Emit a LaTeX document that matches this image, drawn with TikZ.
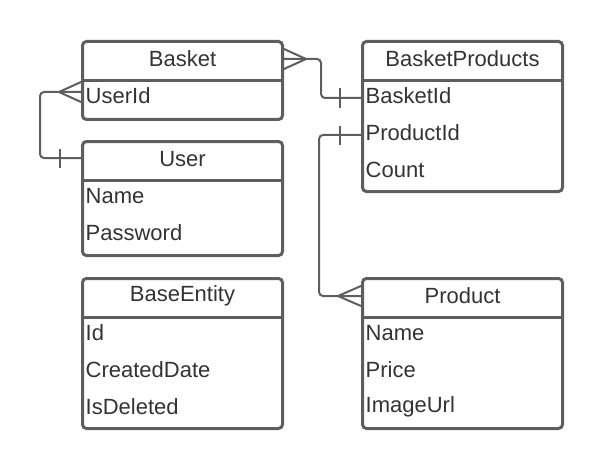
\documentclass[tikz,border=0pt]{standalone}
\usepackage{fontspec}
\setmainfont{Liberation Sans}
\usetikzlibrary{calc}
\definecolor{ln}{HTML}{5E5E5E}
\definecolor{tx}{HTML}{333333}
\newcommand{\erbox}[5]{%
  \node[box,minimum height=#4pt] (#1) at (#2,#3) {};
  \draw[div] ($(#1.north west)+(0,40.5)$) -- ($(#1.north east)+(0,40.5)$);
  \node[title] (#1-t) at ($(#1.north)+(0,19)$) {#5};
}
\newcommand{\erfield}[3]{%
  \node[field] (#1-#2) at ($(#1.north west)+(4.5,19+37*#2)$) {#3};
}
\begin{document}
\begin{tikzpicture}[x=1pt,y=-1pt,
  box/.style={draw=ln,line width=3pt,rounded corners=4pt,minimum width=200pt,inner sep=0pt,anchor=north west},
  div/.style={draw=ln,line width=3pt},
  title/.style={text=tx,font=\fontsize{22}{26}\selectfont,inner sep=0pt},
  field/.style={text=tx,font=\fontsize{22}{26}\selectfont,inner sep=0pt,anchor=west},
  conn/.style={draw=ln,line width=2pt,rounded corners=4pt},
  crow/.style={draw=ln,line width=2pt},
  tick/.style={draw=ln,line width=2pt}]
\useasboundingbox (0,0) rectangle (602,468);

\erbox{basket}{81}{40}{78}{Basket}
\erfield{basket}{1}{UserId}

\erbox{user}{81}{140}{114}{User}
\erfield{user}{1}{Name}
\erfield{user}{2}{Password}

\erbox{base}{81}{277}{150}{BaseEntity}
\erfield{base}{1}{Id}
\erfield{base}{2}{CreatedDate}
\erfield{base}{3}{IsDeleted}

\erbox{bp}{361}{40}{150}{BasketProducts}
\erfield{bp}{1}{BasketId}
\erfield{bp}{2}{ProductId}
\erfield{bp}{3}{Count}

\erbox{prod}{361}{277}{150}{Product}
\erfield{prod}{1}{Name}
\erfield{prod}{2}{Price}
\erfield{prod}{3}{ImageUrl}

% Basket (many) -- BasketProducts.BasketId (one)
\draw[conn] ($(basket.north east)+(0,19)$) -- ++(37,0) |- ($(bp.north west)+(0,58)$);
\draw[crow] ($(basket.north east)+(0,9)$) -- ($(basket.north east)+(22,19)$) -- ($(basket.north east)+(0,29)$);
\draw[tick] ($(bp.north west)+(-21,48)$) -- ++(0,20);

% Basket.UserId (many) -- User (one)
\draw[conn] ($(basket.north west)+(0,52)$) -- ++(-41,0) |- ($(user.north west)+(0,18)$);
\draw[crow] ($(basket.north west)+(0,42)$) -- ($(basket.north west)+(-22,52)$) -- ($(basket.north west)+(0,62)$);
\draw[tick] ($(user.north west)+(-21,9)$) -- ++(0,19);

% BasketProducts.ProductId (one) -- Product (many)
\draw[conn] ($(bp.north west)+(0,95)$) -- ++(-42,0) |- ($(prod.north west)+(0,19)$);
\draw[tick] ($(bp.north west)+(-21,86)$) -- ++(0,19);
\draw[crow] ($(prod.north west)+(0,9)$) -- ($(prod.north west)+(-23,19)$) -- ($(prod.north west)+(0,29)$);
\end{tikzpicture}
\end{document}
